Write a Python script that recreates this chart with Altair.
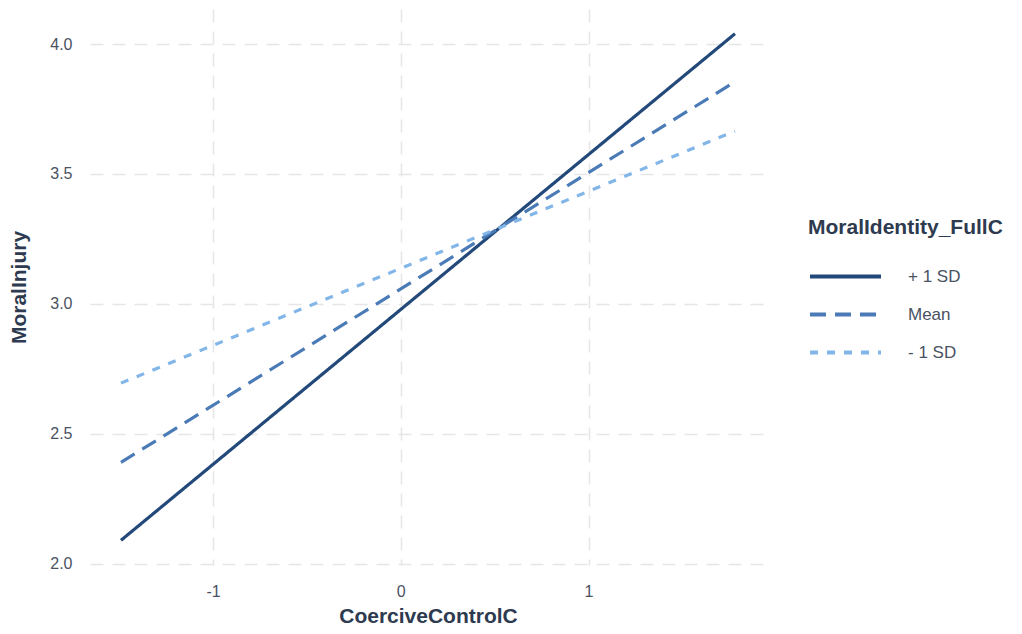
import altair as alt
import pandas as pd

# Data
groups = ["+ 1 SD", "+ 1 SD", "Mean", "Mean", "- 1 SD", "- 1 SD"]
coercive = [-1.49, 1.78, -1.49, 1.78, -1.49, 1.78]
moral_injury = [2.09, 4.04, 2.39, 3.855, 2.695, 3.665]

order = ["+ 1 SD", "Mean", "- 1 SD"]
colors = ["#23497a", "#4b7bb6", "#82b6e8"]
dashes = [[1, 0], [16, 9], [8, 9]]

x_ticks = [-1, 0, 1]
y_ticks = [2.0, 2.5, 3.0, 3.5, 4.0]

df = pd.DataFrame({"CoerciveControlC": coercive, "MoralInjury": moral_injury, "grp": groups})

label_color = "#4a5263"
title_color = "#2d3a4f"
font = "Liberation Sans"

chart = alt.Chart(df).mark_line(strokeWidth=3.2, strokeCap="butt").encode(
    x=alt.X("CoerciveControlC:Q",
            scale=alt.Scale(domain=[-1.655, 1.945], nice=False, zero=False),
            axis=alt.Axis(values=x_ticks, title="CoerciveControlC",
                          labelExpr="datum.value < 0 ? '-' + abs(datum.value) : '' + datum.value",
                          labelPadding=18, titlePadding=6)),
    y=alt.Y("MoralInjury:Q",
            scale=alt.Scale(domain=[1.995, 4.135], nice=False, zero=False),
            axis=alt.Axis(values=y_ticks, format=".1f", title="MoralInjury",
                          labelPadding=18, titlePadding=20)),
    color=alt.Color("grp:N", scale=alt.Scale(domain=order, range=colors),
                    title="MoralIdentity_FullC"),
    strokeDash=alt.StrokeDash("grp:N", scale=alt.Scale(domain=order, range=dashes),
                              title="MoralIdentity_FullC"),
    detail="grp:N",
).properties(
    width=676,
    height=556,
    autosize=alt.AutoSizeParams(type="none"),
    padding={"left": 82, "top": 1, "right": 248, "bottom": 61},
).configure_view(
    stroke=None
).configure_axis(
    domain=False,
    ticks=False,
    grid=True,
    gridColor="#e6e6e6",
    gridDash=[13, 9],
    gridWidth=1.6,
    labelFont=font,
    labelFontSize=16,
    labelColor=label_color,
    titleFont=font,
    titleFontSize=21,
    titleFontWeight="bold",
    titleColor=title_color,
).configure_legend(
    orient="none",
    legendX=718,
    legendY=208,
    titleFont=font,
    titleFontSize=21,
    titleFontWeight="bold",
    titleColor=title_color,
    titleLimit=400,
    titlePadding=30,
    labelFont=font,
    labelFontSize=17,
    labelColor=label_color,
    labelOffset=25,
    symbolType="stroke",
    symbolSize=5041,
    symbolStrokeWidth=4,
    clipHeight=17,
    rowPadding=20,
)

chart.save("out.html", embed_options={"renderer": "svg", "actions": False})
